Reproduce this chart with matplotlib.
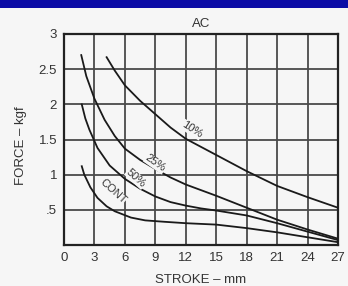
import matplotlib
matplotlib.use("Agg")
import matplotlib.pyplot as plt
from matplotlib.patches import Rectangle

# Data
x_ticks = [0, 3, 6, 9, 12, 15, 18, 21, 24, 27]
y_ticks = [0.5, 1, 1.5, 2, 2.5, 3]
y_tick_labels = [".5", "1", "1.5", "2", "2.5", "3"]

x10 = [4.2, 5, 6, 7.5, 9, 10.5, 12, 15, 18, 21, 24, 27]
y10 = [2.67, 2.48, 2.27, 2.05, 1.86, 1.67, 1.51, 1.28, 1.05, 0.84, 0.68, 0.53]

x25 = [1.7, 2.2, 3, 4, 5, 6, 7.5, 9, 10.5, 12, 13.5, 15, 18, 21, 24, 27]
y25 = [2.7, 2.4, 2.08, 1.78, 1.55, 1.37, 1.21, 1.08, 0.96, 0.86, 0.78, 0.70, 0.53, 0.36, 0.22, 0.09]

x50 = [1.75, 2.1, 2.5, 3.3, 4.5, 6, 7.5, 9, 10.5, 12, 13.5, 15, 18, 21, 24, 27]
y50 = [2.0, 1.8, 1.64, 1.38, 1.13, 0.94, 0.8, 0.69, 0.61, 0.56, 0.52, 0.49, 0.42, 0.31, 0.19, 0.07]

xc = [1.75, 2.0, 2.6, 3.3, 4.2, 5, 6.6, 8, 9.9, 12, 15, 18, 21, 24, 27]
yc = [1.12, 1.0, 0.82, 0.67, 0.55, 0.48, 0.39, 0.35, 0.33, 0.31, 0.29, 0.24, 0.18, 0.11, 0.04]

labels = ["10%", "25%", "50%", "CONT"]
label_pos = [(12.6, 1.64), (9.0, 1.16), (7.1, 0.95), (4.8, 0.77)]
label_rot = [-33, -35, -42, -42]

bg = "#f6f6f6"
fig = plt.figure(figsize=(3.48, 2.86), dpi=100)
fig.patch.set_facecolor(bg)
fig.patches.append(Rectangle((0, 1 - 8 / 286), 1, 8 / 286, transform=fig.transFigure,
                             facecolor="#0c0ca6", edgecolor="none", zorder=10))

ax = fig.add_axes([64 / 348, 1 - 245 / 286, 274 / 348, 211 / 286])
ax.set_facecolor(bg)
ax.set_xlim(0, 27)
ax.set_ylim(0, 3)
ax.set_xticks(x_ticks)
ax.set_xticklabels([str(v) for v in x_ticks])
ax.set_yticks(y_ticks)
ax.set_yticklabels(y_tick_labels)
ax.grid(True, color="#4a4a4a", linewidth=1.3)
ax.set_axisbelow(True)
for s in ax.spines.values():
    s.set_linewidth(1.6)
    s.set_color("#222222")
ax.tick_params(length=0, labelsize=9.5, pad=5, colors="#333333")
for t in ax.get_xticklabels() + ax.get_yticklabels():
    t.set_fontfamily("Liberation Sans")

for xs, ys in [(x10, y10), (x25, y25), (x50, y50), (xc, yc)]:
    ax.plot(xs, ys, color="#1a1a1a", linewidth=1.3, zorder=3)

for lab, (lx, ly), r in zip(labels, label_pos, label_rot):
    ax.text(lx, ly, lab, rotation=r, ha="center", va="center", fontsize=8,
            family="Liberation Sans", color="#333333", zorder=4,
            bbox=dict(facecolor=bg, edgecolor="none", pad=0.3))

ax.set_title("AC", fontsize=9.5, family="Liberation Sans", pad=5, color="#333333")
ax.set_xlabel("STROKE – mm", fontsize=9.5, family="Liberation Sans", labelpad=7, color="#333333")
ax.set_ylabel("FORCE – kgf", fontsize=9.5, family="Liberation Sans", color="#333333")
ax.yaxis.set_label_coords(-0.135, 0.47)

fig.savefig("out.png", dpi=100, facecolor=fig.get_facecolor())
